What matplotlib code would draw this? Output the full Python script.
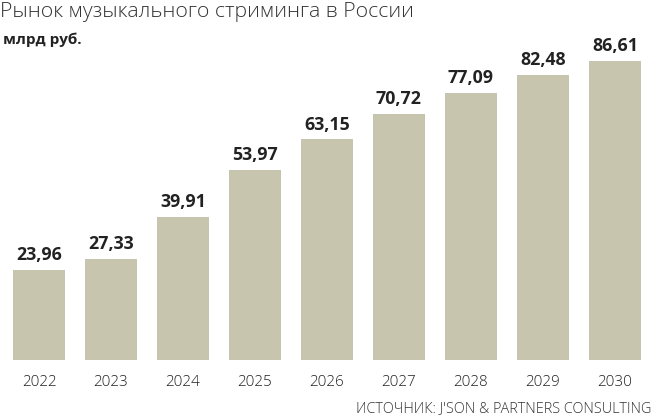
import matplotlib
matplotlib.use("Agg")
import matplotlib.pyplot as plt

# Market data, bln rub
years = ["2022", "2023", "2024", "2025", "2026", "2027", "2028", "2029", "2030"]
values = [23.96, 27.33, 39.91, 53.97, 63.15, 70.72, 77.09, 82.48, 86.61]
labels = ["23,96", "27,33", "39,91", "53,97", "63,15", "70,72", "77,09", "82,48", "86,61"]

base = -3.0  # bars in the original start slightly below zero
bar_color = "#c8c5af"
text_color = "#222222"

plt.rcParams['font.family'] = ['Open Sans', 'DejaVu Sans']

fig = plt.figure(figsize=(6.54, 4.17), dpi=100)
ax = fig.add_axes([0, 0, 1, 1])
ax.set_xlim(-0.5417, 8.5417)
ax.set_ylim(-20.09, 104.9)
ax.axis("off")

x = list(range(len(years)))
heights = [v - base for v in values]
ax.bar(x, heights, bottom=base, width=0.722, color=bar_color, linewidth=0)

for xi, v, lab in zip(x, values, labels):
    ax.annotate(lab, (xi, v), xytext=(0, 4), textcoords="offset points",
                ha="center", va="bottom", fontsize=12.8, fontweight="bold",
                color=text_color)

for xi, yr in zip(x, years):
    ax.annotate(yr, (xi, base), xytext=(0, -16), textcoords="offset points",
                ha="center", va="center", fontsize=11, fontweight="light",
                color=text_color)

fig.text(0.0, 0.995, "Рынок музыкального стриминга в России", ha="left", va="top",
         fontsize=15.3, fontweight="light", color="#333333")
fig.text(0.005, 0.905, "млрд руб.", ha="left", va="center",
         fontsize=11, fontweight="bold", color=text_color)
fig.text(0.996, 0.02, "ИСТОЧНИК: J'SON & PARTNERS CONSULTING", ha="right", va="center",
         fontsize=10.4, fontweight="light", color="#333333")

fig.savefig("out.png", dpi=100)
